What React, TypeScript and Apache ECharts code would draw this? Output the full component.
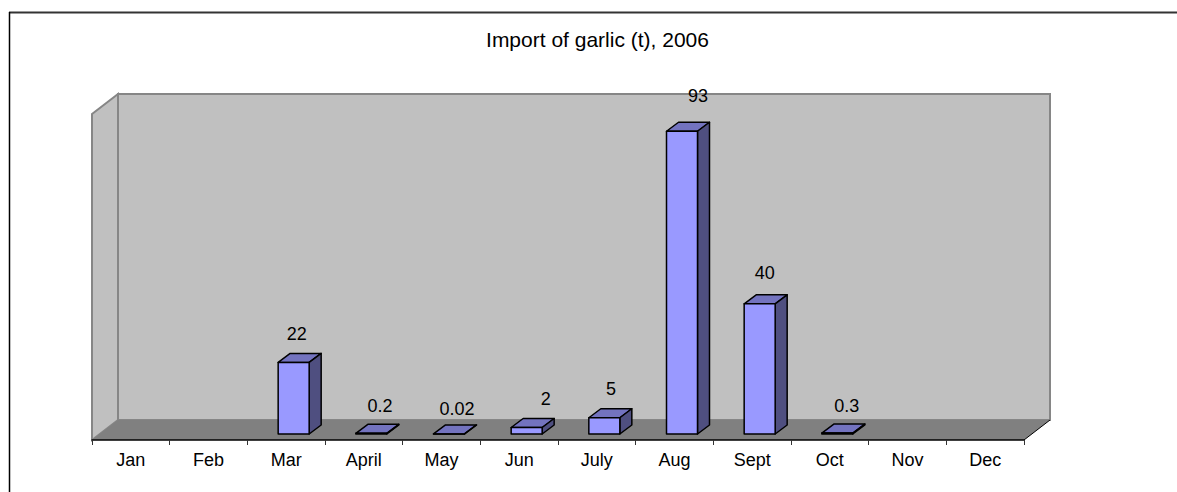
import React, { useEffect, useRef } from "react";
import * as echarts from "echarts";

const months = ["Jan", "Feb", "Mar", "April", "May", "Jun", "July", "Aug", "Sept", "Oct", "Nov", "Dec"];
const imports = [null, null, 22, 0.2, 0.02, 2, 5, 93, 40, 0.3, null, null];
const labelDx = [0, 0, 3, 8.6, 8, 19, 6.6, 16, 5, 9.5, 0, 0];
const labelDy = [0, 0, -28, -27, -25, -28.5, -29, -35, -30.6, -27, 0, 0];

const FONT = "'Liberation Sans', Arial, sans-serif";
const BAR_W = 31;
const BAR_SHIFT = 7.5;
const DEPTH_X = 12;
const DEPTH_Y = 9;

const wallStyle = { fill: "#C0C0C0", stroke: "#868686", lineWidth: 2 };

export default function App() {
  const ref = useRef<HTMLDivElement>(null);
  useEffect(() => {
    const chart = echarts.init(ref.current!, null, { renderer: "svg" });
    chart.setOption({
      animation: false,
      backgroundColor: "#FFFFFF",
      title: {
        text: "Import of garlic (t), 2006",
        left: 592.5,
        top: 24,
        textAlign: "center",
        textStyle: { fontFamily: FONT, fontSize: 21, fontWeight: "normal", color: "#000000" },
      },
      graphic: [
        { type: "line", z: -5, shape: { x1: 9, y1: 12.5, x2: 1177, y2: 12.5 }, style: { stroke: "#333333", lineWidth: 2 } },
        { type: "line", z: -5, shape: { x1: 9.5, y1: 12, x2: 9.5, y2: 492 }, style: { stroke: "#000000", lineWidth: 1.5 } },
        { type: "rect", z: -5, shape: { x: 118, y: 94, width: 932, height: 326 }, style: wallStyle },
        { type: "polygon", z: -5, shape: { points: [[92, 114], [118, 94], [118, 420], [92, 440]] }, style: wallStyle },
        { type: "polygon", z: -4, shape: { points: [[92, 440], [118, 420], [1050, 420], [1024, 440]] }, style: { fill: "#808080" } },
        { type: "line", z: -3, shape: { x1: 1024, y1: 440, x2: 1050, y2: 420 }, style: { stroke: "#000000", lineWidth: 1 } },
      ],
      grid: { left: 92, right: 153, top: 114, bottom: 52 },
      xAxis: {
        type: "category",
        data: months,
        axisLine: { onZero: false, lineStyle: { color: "#000000", width: 1.5 } },
        axisTick: { show: true, length: 5, lineStyle: { color: "#333333", width: 1 } },
        axisLabel: { margin: 11, fontFamily: FONT, fontSize: 18, color: "#000000", interval: 0 },
      },
      yAxis: { type: "value", show: false, min: -1.84, max: 98.3, splitLine: { show: false } },
      series: [
        {
          type: "custom",
          clip: false,
          data: imports.map((v, i) => [i, v]),
          renderItem: (_p: any, api: any) => {
            const i = api.value(0);
            const v = imports[i];
            if (v == null) return null;
            const top = api.coord([i, v]);
            const base = api.coord([i, 0]);
            const x0 = top[0] + BAR_SHIFT - BAR_W / 2;
            const x1 = x0 + BAR_W;
            const y0 = top[1];
            const y1 = base[1];
            const line = { stroke: "#000000", lineWidth: 1.5, lineJoin: "round" };
            const children: any[] = [
              {
                type: "polygon",
                shape: { points: [[x0, y0], [x0 + DEPTH_X, y0 - DEPTH_Y], [x1 + DEPTH_X, y0 - DEPTH_Y], [x1, y0]] },
                style: { fill: "#7373BF", ...line },
              },
              {
                type: "polygon",
                shape: { points: [[x1, y0], [x1 + DEPTH_X, y0 - DEPTH_Y], [x1 + DEPTH_X, y1 - DEPTH_Y], [x1, y1]] },
                style: { fill: "#4F4F80", ...line },
              },
              {
                type: "polygon",
                shape: { points: [[x0, y0], [x1, y0], [x1, y1], [x0, y1]] },
                style: { fill: "#9999FF", ...line },
              },
              {
                type: "text",
                x: top[0] + BAR_SHIFT + labelDx[i],
                y: y0 + labelDy[i],
                style: {
                  text: String(v),
                  fill: "#000000",
                  font: `18px ${FONT}`,
                  align: "center",
                  verticalAlign: "middle",
                },
              },
            ];
            return { type: "group", children };
          },
        },
      ],
    });
    return () => chart.dispose();
  }, []);
  return <div ref={ref} style={{ position: "fixed", left: 0, top: 0, width: 1177, height: 492 }} />;
}
